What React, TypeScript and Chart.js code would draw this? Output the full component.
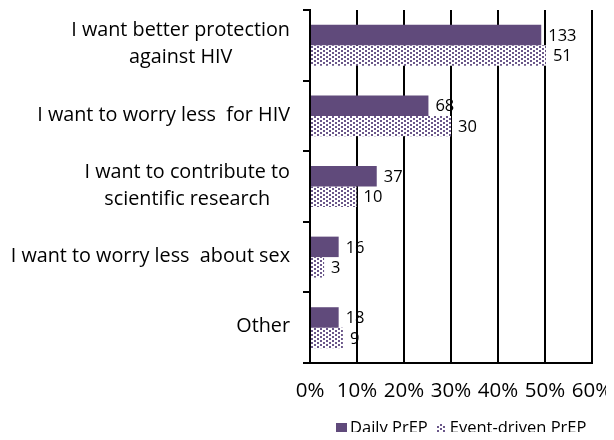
import React, { useEffect, useRef } from "react";
import { Chart, registerables } from "chart.js";

Chart.register(...registerables);

const categories: string[][] = [
  ["I want better protection", "against HIV"],
  ["I want to worry less  for HIV"],
  ["I want to contribute to", "scientific research"],
  ["I want to worry less  about sex"],
  ["Other"],
];
const dailyPercent = [49.2, 25.2, 14.2, 6.1, 6.1];
const eventPercent = [50.2, 30.0, 9.9, 3.0, 7.0];
const dailyCounts = [133, 68, 37, 16, 18];
const eventCounts = [51, 30, 10, 3, 9];
const xTicks = [0, 10, 20, 30, 40, 50, 60];
const seriesNames = ["Daily PrEP", "Event-driven PrEP"];

const PURPLE = "#604a7b";
const FONT = "'Open Sans'";

function makePattern(): CanvasPattern | string {
  const c = document.createElement("canvas");
  c.width = 6;
  c.height = 4;
  const g = c.getContext("2d");
  if (!g) return PURPLE;
  g.fillStyle = "#ffffff";
  g.fillRect(0, 0, 6, 4);
  g.fillStyle = "#6a5689";
  g.fillRect(0, 0, 2, 2);
  g.fillRect(3, 2, 2, 2);
  const p = g.createPattern(c, "repeat");
  return p || PURPLE;
}

export default function App() {
  const ref = useRef<HTMLCanvasElement | null>(null);

  useEffect(() => {
    if (!ref.current) return;
    const pattern = makePattern();
    const counts = [dailyCounts, eventCounts];

    const labelsPlugin = {
      id: "valueLabels",
      afterDatasetsDraw(chart: any) {
        const ctx = chart.ctx;
        ctx.save();
        ctx.font = `16.5px ${FONT}`;
        ctx.fillStyle = "#000";
        ctx.textBaseline = "middle";
        ctx.textAlign = "left";
        chart.data.datasets.forEach((ds: any, di: number) => {
          const meta = chart.getDatasetMeta(di);
          meta.data.forEach((bar: any, i: number) => {
            ctx.fillText(String(counts[di][i]), bar.x + 7, bar.y + 1);
          });
        });
        ctx.restore();
      },
    };

    const catLabelPlugin = {
      id: "catLabels",
      afterDraw(chart: any) {
        const ctx = chart.ctx;
        const y = chart.scales.y;
        const right = chart.chartArea.left - 20;
        const lh = 27;
        ctx.save();
        ctx.font = `19.8px ${FONT}`;
        ctx.fillStyle = "#000";
        ctx.textBaseline = "middle";
        ctx.textAlign = "center";
        categories.forEach((lines, i) => {
          const cy = y.getPixelForTick(i);
          const maxW = Math.max(...lines.map((l) => ctx.measureText(l).width));
          const cx = right - maxW / 2;
          const start = cy - ((lines.length - 1) * lh) / 2 - 1;
          lines.forEach((l, j) => ctx.fillText(l, cx, start + j * lh));
        });
        ctx.restore();
      },
    };

    const legendPlugin = {
      id: "customLegend",
      afterDraw(chart: any) {
        const ctx = chart.ctx;
        ctx.save();
        ctx.font = `16.5px ${FONT}`;
        ctx.textBaseline = "middle";
        ctx.textAlign = "left";
        const cy = 420;
        let x = 328;
        ctx.fillStyle = PURPLE;
        ctx.fillRect(x, cy - 5, 11, 10);
        x += 14;
        ctx.fillStyle = "#000";
        ctx.fillText(seriesNames[0], x, cy);
        x += ctx.measureText(seriesNames[0]).width + 9;
        ctx.fillStyle = pattern as any;
        ctx.fillRect(x, cy - 4, 9, 9);
        x += 13;
        ctx.fillStyle = "#000";
        ctx.fillText(seriesNames[1], x, cy);
        ctx.restore();
      },
    };

    const chart = new Chart(ref.current, {
      type: "bar",
      data: {
        labels: categories.map((c) => c.join(" ")),
        datasets: [
          {
            label: seriesNames[0],
            data: dailyPercent,
            backgroundColor: PURPLE,
            borderWidth: 0,
            categoryPercentage: 0.58,
            barPercentage: 1.0,
          },
          {
            label: seriesNames[1],
            data: eventPercent,
            backgroundColor: pattern as any,
            borderWidth: 0,
            categoryPercentage: 0.58,
            barPercentage: 1.0,
          },
        ],
      },
      options: {
        indexAxis: "y",
        animation: false,
        responsive: true,
        maintainAspectRatio: false,
        layout: { padding: { top: 2, right: 14, bottom: 0, left: 0 } },
        plugins: {
          legend: { display: false },
          tooltip: { enabled: false },
        },
        scales: {
          x: {
            type: "linear",
            min: 0,
            max: 60,
            afterBuildTicks(scale: any) {
              scale.ticks = xTicks.map((v) => ({ value: v }));
            },
            afterFit(scale: any) {
              scale.height = 69;
              scale.paddingRight = 0;
              scale.paddingLeft = 0;
            },
            ticks: {
              color: "#000",
              font: { family: "Open Sans", size: 20.5 },
              padding: 16,
              callback: (v: any) => `${v}%`,
            },
            grid: {
              color: "#000",
              lineWidth: 2,
              drawTicks: false,
            },
            border: { display: true, color: "#000", width: 2 },
          },
          y: {
            type: "category",
            afterFit(scale: any) {
              scale.width = 302;
              scale.paddingTop = 0;
              scale.paddingBottom = 0;
            },
            ticks: { display: false },
            grid: {
              display: true,
              offset: true,
              drawOnChartArea: false,
              drawTicks: true,
              tickLength: 7,
              color: "#000",
              lineWidth: 2,
            },
            border: { display: true, color: "#000", width: 2 },
          },
        },
      },
      plugins: [labelsPlugin, catLabelPlugin, legendPlugin],
    });
    return () => chart.destroy();
  }, []);

  return (
    <div style={{ width: 598, height: 424, position: "relative" }}>
      <canvas ref={ref} />
    </div>
  );
}
